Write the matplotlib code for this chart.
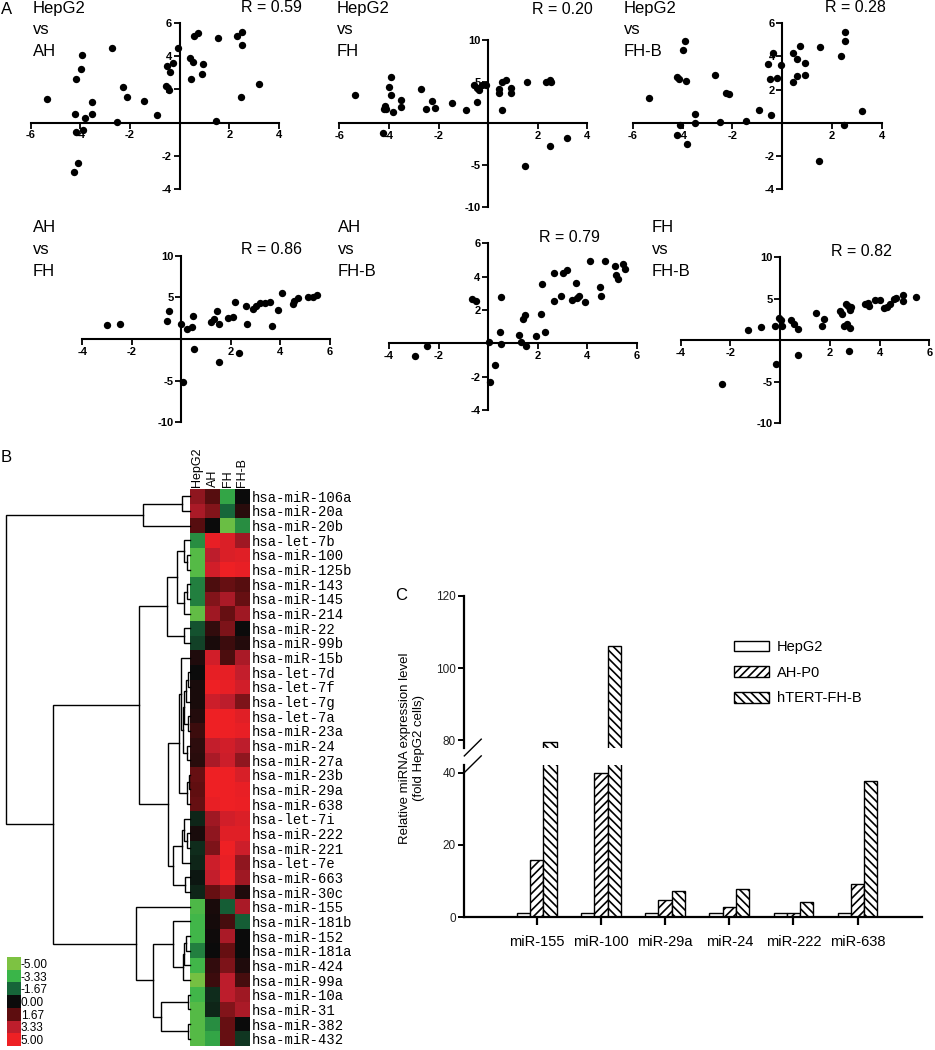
import numpy as np
import matplotlib.pyplot as plt
from matplotlib.colors import LinearSegmentedColormap

plt.rcParams['font.family'] = ['Liberation Sans', 'DejaVu Sans']
plt.rcParams['axes.unicode_minus'] = False
plt.rcParams['hatch.linewidth'] = 1.2

# ---------------- A: pairwise scatter data ----------------
hepg2_ah_x = [-5.36, -4.23, -4.16, -3.99, -3.92, -3.83, -3.90, -4.18, -4.11, -4.26, -3.52, -3.53, -2.72,
              -2.51, -2.29, -2.14, -1.44, -0.91, -0.53, -0.40, -0.25, -0.06, -0.56, -0.44, 0.43, 0.55,
              0.45, 0.58, 0.73, 0.92, 0.90, 1.53, 1.48, 2.32, 2.49, 2.49, 2.46, 3.18]
hepg2_ah_y = [1.43, 0.50, 2.64, 3.20, 4.08, 0.26, -0.44, -0.58, -2.45, -3.00, 1.27, 0.50, 4.51,
              0.04, 2.13, 1.53, 1.33, 0.46, 3.38, 3.06, 3.62, 4.49, 2.21, 1.97, 3.92, 3.68,
              2.64, 5.23, 5.39, 3.54, 2.94, 5.09, 0.10, 5.19, 5.45, 4.69, 1.53, 2.33]

hepg2_fh_x = [-5.35, -3.93, -4.01, -3.92, -4.20, -4.16, -4.12, -3.84, -3.53, -3.51, -4.25, -2.71, -2.28,
              -2.52, -2.14, -1.46, -0.91, -0.56, -0.46, -0.38, -0.26, -0.09, -0.46, 0.45, 0.44, 0.57,
              0.73, 0.92, 0.92, 0.56, 1.55, 2.33, 2.49, 2.52, 3.19, 2.49, 1.50]
hepg2_fh_y = [3.36, 5.56, 4.40, 3.36, 1.76, 2.08, 1.76, 1.36, 2.84, 2.00, -1.20, 4.16, 2.72,
              1.76, 1.80, 2.44, 1.60, 4.60, 4.24, 4.00, 4.64, 4.64, 2.52, 4.12, 3.64, 5.00,
              5.24, 4.24, 3.68, 1.64, 5.00, 4.92, 5.20, 4.92, -1.72, -2.76, -5.12]

hepg2_fhb_x = [-5.33, -3.90, -3.97, -4.24, -4.13, -3.87, -4.10, -4.24, -3.82, -3.49, -3.50, -2.70, -2.50,
               -2.27, -2.12, -1.45, -0.92, -0.56, -0.39, -0.51, -0.22, -0.05, -0.45, 0.44, 0.58, 0.72,
               0.93, 0.91, 0.58, 0.44, 1.53, 1.47, 2.34, 2.50, 2.50, 2.48, 3.20]
hepg2_fhb_y = [1.51, 4.96, 4.42, 2.79, 2.65, 2.53, -0.14, -0.70, -1.27, 0.56, 0.00, 2.89, 0.08,
               1.83, 1.73, 0.10, 0.76, 3.57, 4.20, 2.65, 2.69, 3.47, 0.48, 4.24, 3.84, 4.64,
               3.63, 2.87, 2.81, 2.49, 4.58, -2.31, 4.06, 5.48, 4.94, -0.14, 0.74]

ah_fh_x = [-2.99, -2.47, -0.60, -0.48, 0.00, 0.24, 0.44, 0.48, 0.51, 0.07, 1.21, 1.30, 1.42, 1.50,
           1.50, 1.89, 2.08, 2.16, 2.31, 2.63, 2.62, 2.89, 3.02, 3.18, 3.36, 3.56, 3.64, 3.91,
           4.07, 4.50, 4.54, 4.70, 5.10, 5.30, 5.48]
ah_fh_y = [1.68, 1.80, 2.12, 3.32, 1.76, 1.24, 1.48, 2.76, -1.24, -5.12, 2.04, 2.36, 3.32, 1.80,
           -2.80, 2.48, 2.68, 4.48, -1.72, 1.80, 4.00, 3.64, 4.00, 4.28, 4.36, 4.40, 1.60, 3.52,
           5.48, 4.16, 4.52, 4.88, 5.00, 5.08, 5.24]

ah_fhb_x = [-2.97, -2.46, -0.64, -0.50, 0.04, 0.27, 0.09, 0.47, 0.51, 0.51, 1.23, 1.32, 1.42, 1.50,
            1.52, 1.92, 2.11, 2.17, 2.31, 2.64, 2.66, 2.94, 3.03, 3.17, 3.36, 3.54, 3.58, 3.66,
            3.92, 4.09, 4.52, 4.54, 4.71, 5.11, 5.17, 5.23, 5.45, 5.50]
ah_fhb_y = [-0.77, -0.18, 2.67, 2.53, 0.08, -1.29, -2.34, 0.71, 2.77, -0.06, 0.53, 0.08, 1.45, 1.70,
            -0.16, 0.46, 1.76, 3.54, 0.71, 2.57, 4.24, 2.85, 4.20, 4.38, 2.63, 3.62, 2.71, 2.87,
            2.46, 4.93, 3.41, 2.87, 4.95, 4.63, 4.08, 3.88, 4.75, 4.45]

fh_fhb_x = [-2.35, -1.30, -0.75, -0.19, -0.17, -0.04, 0.04, 0.08, 0.44, 0.54, 0.71, 0.71, 1.46, 1.68,
            1.77, 2.41, 2.49, 2.55, 2.68, 2.65, 2.73, 2.82, 2.84, 2.80, 2.75, 3.40, 3.59, 3.54,
            3.81, 4.02, 4.16, 4.29, 4.40, 4.56, 4.65, 4.93, 4.93, 5.46]
fh_fhb_y = [-5.24, 1.28, 1.60, 1.68, -2.88, 2.72, 2.40, 1.72, 2.40, 1.92, 1.40, -1.80, 3.28, 1.72,
            2.60, 3.48, 3.20, 1.68, 2.00, 4.40, 4.12, 3.60, 4.00, 1.48, -1.32, 4.40, 4.16, 4.48,
            4.88, 4.80, 3.88, 4.00, 4.40, 4.92, 5.12, 5.48, 4.72, 5.20]

r_values = ['0.59', '0.20', '0.28', '0.86', '0.79', '0.82']

# ---------------- B: heat map data ----------------
mirnas = ['hsa-miR-106a', 'hsa-miR-20a', 'hsa-miR-20b', 'hsa-let-7b', 'hsa-miR-100', 'hsa-miR-125b',
          'hsa-miR-143', 'hsa-miR-145', 'hsa-miR-214', 'hsa-miR-22', 'hsa-miR-99b', 'hsa-miR-15b',
          'hsa-let-7d', 'hsa-let-7f', 'hsa-let-7g', 'hsa-let-7a', 'hsa-miR-23a', 'hsa-miR-24',
          'hsa-miR-27a', 'hsa-miR-23b', 'hsa-miR-29a', 'hsa-miR-638', 'hsa-let-7i', 'hsa-miR-222',
          'hsa-miR-221', 'hsa-let-7e', 'hsa-miR-663', 'hsa-miR-30c', 'hsa-miR-155', 'hsa-miR-181b',
          'hsa-miR-152', 'hsa-miR-181a', 'hsa-miR-424', 'hsa-miR-99a', 'hsa-miR-10a', 'hsa-miR-31',
          'hsa-miR-382', 'hsa-miR-432']
samples = ['HepG2', 'AH', 'FH', 'FH-B']
hm_hepg2 = [2.5, 3.0, 1.5, -2.5, -4.0, -4.0, -2.2, -2.2, -4.3, -1.3, -1.0, 0.4, 0.0, 0.3, 0.3, 0.5, 1.0, 0.7,
            0.6, 1.8, 1.7, 1.8, -0.5, 0.3, -0.6, -0.5, -0.2, -0.5, -3.8, -3.5, -3.5, -2.2, -3.5, -4.8,
            -3.5, -4.0, -4.0, -4.0]
hm_ah = [1.5, 2.3, 0.0, 4.8, 3.3, 4.0, 1.3, 2.3, 2.8, 0.8, 0.3, 4.0, 4.7, 5.0, 3.8, 5.0, 5.0, 3.5,
         3.0, 5.0, 5.0, 4.8, 2.8, 2.5, 2.2, 3.8, 3.5, 1.8, 0.3, 0.2, 0.1, 0.0, 0.8, 1.0, -0.6, -0.5,
         -2.5, -3.0]
hm_fh = [-3.0, -1.7, -4.5, 4.3, 4.3, 5.0, 1.8, 3.0, 1.8, 2.2, 1.0, 1.3, 4.7, 4.8, 3.3, 5.0, 5.0, 4.0,
         3.8, 5.0, 5.0, 5.0, 4.0, 4.5, 5.0, 4.8, 5.0, 2.5, -1.5, 1.2, 3.0, 1.8, 2.2, 3.3, 3.3, 2.3,
         1.8, 1.8]
hm_fhb = [0.0, 0.6, -2.5, 2.8, 4.5, 4.8, 1.5, 1.8, 2.8, 0.0, 0.5, 3.0, 3.5, 4.0, 2.2, 4.5, 4.8, 3.3,
          2.5, 4.2, 4.8, 4.9, 4.3, 4.5, 3.8, 2.5, 2.8, 0.4, 3.0, -1.5, 0.0, 0.0, 0.4, 1.2, 2.8, 3.0,
          0.0, -0.8]

# row clustering: (child a, child b, height); leaves 0..37, new clusters numbered from 38
merges = [(0, 1, 0.043), (38, 2, 0.255), (4, 5, 0.015), (3, 40, 0.035), (6, 7, 0.015), (42, 8, 0.03),
          (41, 43, 0.07), (9, 10, 0.03), (44, 45, 0.125), (12, 13, 0.01), (47, 14, 0.02), (15, 16, 0.01),
          (48, 49, 0.03), (17, 18, 0.015), (50, 51, 0.04), (11, 52, 0.05), (19, 20, 0.008), (54, 21, 0.015),
          (53, 55, 0.06), (23, 24, 0.015), (22, 57, 0.03), (58, 25, 0.045), (26, 27, 0.027), (59, 60, 0.092),
          (56, 61, 0.12), (46, 62, 0.277), (30, 31, 0.02), (64, 32, 0.03), (65, 33, 0.04), (29, 66, 0.092),
          (34, 35, 0.011), (36, 37, 0.011), (68, 69, 0.158), (67, 70, 0.201), (28, 71, 0.293),
          (63, 72, 0.745), (39, 73, 1.0)]

key_levels = [-5.0, -3.33, -1.67, 0.0, 1.67, 3.33, 5.0]
key_colors = ['#7DC242', '#3AB54A', '#17663A', '#0B0B0B', '#5E0E10', '#BE1E2D', '#EE2024']

# ---------------- C: qPCR bar data ----------------
bar_mirnas = ['miR-155', 'miR-100', 'miR-29a', 'miR-24', 'miR-222', 'miR-638']
fold_hepg2 = [1, 1, 1, 1, 1, 1]
fold_ahp0 = [15.9, 40.0, 4.8, 2.7, 1.0, 9.2]
fold_htert = [79.5, 106.2, 7.3, 7.9, 4.05, 37.8]

W, H = 935, 1050
fig = plt.figure(figsize=(W / 100, H / 100), dpi=100)


def rect(x0, y0, x1, y1):
    return [x0 / W, 1 - y1 / H, (x1 - x0) / W, (y1 - y0) / H]


def put(x, y, s, **kw):
    fig.text(x / W, 1 - y / H, s, **kw)


def scatter_panel(box, xs, ys, xlim, ylim, xticks, yticks):
    ax = fig.add_axes(rect(*box))
    ax.scatter(xs, ys, s=28, c='black', linewidths=0, clip_on=False, zorder=3)
    ax.set_xlim(*xlim)
    ax.set_ylim(*ylim)
    ax.spines[['top', 'right']].set_visible(False)
    ax.spines['left'].set_position(('data', 0))
    ax.spines['bottom'].set_position(('data', 0))
    for s in ('left', 'bottom'):
        ax.spines[s].set_linewidth(1.5)
    ax.set_xticks(xticks)
    ax.set_yticks(yticks)
    ax.tick_params(length=4, width=1.3, pad=1.5, labelsize=8)
    for t in ax.get_xticklabels() + ax.get_yticklabels():
        t.set_fontweight('bold')
    ax.patch.set_alpha(0)
    return ax


sx6 = [-6, -4, -2, 2, 4]
sx4 = [-4, -2, 2, 4, 6]
sy6 = [-4, -2, 2, 4, 6]
sy10 = [-10, -5, 5, 10]
scatter_panel((30.7, 23, 279, 189), hepg2_ah_x, hepg2_ah_y, (-6, 4), (-4, 6), sx6, sy6)
scatter_panel((339.3, 40, 587.3, 206.7), hepg2_fh_x, hepg2_fh_y, (-6, 4), (-10, 10), sx6, sy10)
scatter_panel((632.7, 23.3, 882, 189.3), hepg2_fhb_x, hepg2_fhb_y, (-6, 4), (-4, 6), sx6, sy6)
scatter_panel((82.3, 255.7, 330, 422.3), ah_fh_x, ah_fh_y, (-4, 6), (-10, 10), sx4, sy10)
scatter_panel((389, 243.5, 637, 410), ah_fhb_x, ah_fhb_y, (-4, 6), (-4, 6), sx4, sy6)
scatter_panel((680.7, 257, 929.3, 423.3), fh_fhb_x, fh_fhb_y, (-4, 6), (-10, 10), sx4, sy10)

pairs = [('HepG2', 'AH'), ('HepG2', 'FH'), ('HepG2', 'FH-B'), ('AH', 'FH'), ('AH', 'FH-B'), ('FH', 'FH-B')]
title_xy = [(33, 8), (337, 8), (624, 8), (33, 228), (338, 228), (652, 228)]
r_xy = [(302, 8), (593, 10), (886, 8), (302, 250), (600, 238), (892, 252)]
for (a, b), (tx, ty), (rx, ry), r in zip(pairs, title_xy, r_xy, r_values):
    put(tx, ty, a, fontsize=12, va='center')
    put(tx, ty + 22, 'vs', fontsize=12, va='center')
    put(tx, ty + 44, b, fontsize=12, va='center')
    put(rx, ry, 'R = ' + r, fontsize=11.5, va='center', ha='right')

put(7, 9, 'A', fontsize=12, va='center', ha='center')
put(6, 457, 'B', fontsize=12, va='center', ha='center')
put(401, 596, 'C', fontsize=12, va='center', ha='center')

# ---------------- B: heat map + dendrogram ----------------
cmap = LinearSegmentedColormap.from_list(
    'gbr', [((v + 5) / 10, c) for v, c in zip(key_levels, key_colors)])
values = np.column_stack([hm_hepg2, hm_ah, hm_fh, hm_fhb])
n = len(mirnas)
top, bot = 489, 1046

hax = fig.add_axes(rect(190, top, 250, bot))
hax.imshow(values, cmap=cmap, vmin=-5, vmax=5, aspect='auto', interpolation='nearest')
hax.set_yticks(range(n))
hax.set_yticklabels(mirnas, family=['Liberation Mono', 'DejaVu Sans Mono'], fontsize=10)
hax.yaxis.tick_right()
hax.set_xticks(range(len(samples)))
hax.set_xticklabels(samples, rotation=90, fontsize=9)
hax.xaxis.tick_top()
hax.tick_params(length=0, pad=1.5)
for s in hax.spines.values():
    s.set_visible(False)

dax = fig.add_axes(rect(6, top, 190, bot))
pos = {i: (0.0, i + 0.5) for i in range(n)}
for k, (a, b, h) in enumerate(merges):
    xa, ya = pos[a]
    xb, yb = pos[b]
    dax.plot([xa, h, h, xb], [ya, ya, yb, yb], color='black', lw=1.0, clip_on=False,
             solid_joinstyle='miter')
    pos[n + k] = (h, (ya + yb) / 2)
dax.set_xlim(1.0, 0.0)
dax.set_ylim(n, 0)
dax.axis('off')

kax = fig.add_axes(rect(7.3, 957, 20.7, 1046))
kax.imshow(np.array(key_levels)[:, None], cmap=cmap, vmin=-5, vmax=5, aspect='auto')
kax.set_xticks([])
kax.set_yticks(range(len(key_levels)))
kax.set_yticklabels([f'{v:.2f}' for v in key_levels], fontsize=8.5)
kax.yaxis.tick_right()
kax.tick_params(length=0, pad=0)
for s in kax.spines.values():
    s.set_visible(False)

# ---------------- C: broken-axis bar chart ----------------
ax_hi = fig.add_axes(rect(464.3, 596, 921.7, 748.3))
ax_lo = fig.add_axes(rect(464.3, 765, 921.7, 917))
xpos = np.arange(len(bar_mirnas))
bw = 0.206
for ax in (ax_hi, ax_lo):
    ax.bar(xpos - bw, fold_hepg2, bw, color='white', edgecolor='black', lw=1, label='HepG2')
    ax.bar(xpos, fold_ahp0, bw, color='white', edgecolor='black', lw=1, hatch='////', label='AH-P0')
    ax.bar(xpos + bw, fold_htert, bw, color='white', edgecolor='black', lw=1, hatch='\\\\\\\\',
           label='hTERT-FH-B')
    ax.set_xlim(-1.13, 6.0)
    ax.spines[['top', 'right']].set_visible(False)
    ax.spines['left'].set_linewidth(1.6)
    ax.spines['bottom'].set_linewidth(1.6)
    ax.tick_params(axis='y', length=4, width=1.4, labelsize=8.5, labelcolor='#222222', pad=2)
    ax.patch.set_alpha(0)

ax_hi.set_ylim(77.7, 120)
ax_hi.set_yticks([80, 100, 120])
ax_hi.spines['bottom'].set_visible(False)
ax_hi.set_xticks([])

ax_lo.set_ylim(0, 42.2)
ax_lo.set_yticks([0, 20, 40])
ax_lo.set_xticks(xpos)
ax_lo.set_xticklabels(bar_mirnas, fontsize=10.5)
ax_lo.tick_params(axis='x', length=6, width=1.6, pad=7)

# break marks on the value axis
ax_hi.plot([0.0, 0.037], [-0.05, 0.06], transform=ax_hi.transAxes, color='black', lw=1.0, clip_on=False)
ax_lo.plot([0.0, 0.037], [0.95, 1.06], transform=ax_lo.transAxes, color='black', lw=1.0, clip_on=False)

ax_hi.legend(loc='upper left', bbox_to_anchor=(734 / W, 1 - 640 / H), bbox_transform=fig.transFigure,
             frameon=False, fontsize=10.5, handlelength=2.4, handleheight=0.75, handletextpad=0.55,
             labelspacing=0.8, borderaxespad=0, borderpad=0)

put(412, 748, 'Relative miRNA expression level\n(fold HepG2 cells)', fontsize=9.5, rotation=90,
    va='center', ha='center', multialignment='center', linespacing=1.15)

fig.savefig('out.png', dpi=100)
